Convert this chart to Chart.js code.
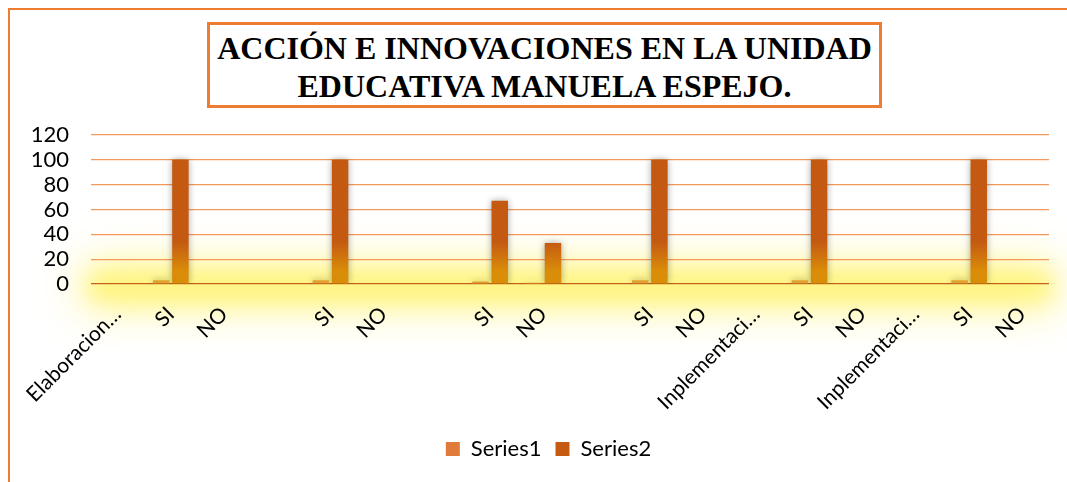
<!DOCTYPE html>
<html>
<head>
<meta charset="utf-8">
<script src="https://cdn.jsdelivr.net/npm/chart.js@4.4.1/dist/chart.umd.min.js"></script>
<style>
  html, body { margin:0; padding:0; background:#fff; overflow:hidden; }
  #wrap { position:relative; width:1067px; height:482px; }
  #frame { position:absolute; left:8px; top:8px; width:1080px; height:500px;
           border:2px solid #ED7D31; box-sizing:border-box; }
  #title { position:absolute; left:207px; top:22px; width:675px; height:86px;
           border:3px solid #ED7D31; box-sizing:border-box; background:#fff;
           font-family:"Liberation Serif", "Times New Roman", serif; font-weight:bold;
           font-size:32px; line-height:38px; text-align:center; color:#000;
           padding-top:4px; z-index:2; }
  canvas { position:absolute; left:0; top:0; }
</style>
</head>
<body>
<div id="wrap">
  <div id="frame"></div>
  <div id="title">ACCIÓN E INNOVACIONES EN LA UNIDAD<br>EDUCATIVA MANUELA ESPEJO.</div>
  <canvas id="chart" width="1067" height="482"></canvas>
</div>
<script>

/* datos del grafico */
let categorias = [
   "Elaboracion…","SI","NO","","SI","NO","","SI","NO",
   "","SI","NO","Inplementaci…","SI","NO","Inplementaci…","SI","NO"
];

let series1 = [0,3,0,0,3,0,0,2,1,0,3,0,0,3,0,0,3,0];
let series2 = [0,100,0,0,100,0,0,67,33,0,100,0,0,100,0,0,100,0];

let yTicks = [0,20,40,60,80,100,120];

let nombresSeries = ["Series1","Series2"];
let coloresLeyenda = ["#E07B3C","#C55A11"];

let fuente = "Lato, 'Open Sans', sans-serif";

function gradienteSerie2(context){

   let chart = context.chart;
   let area = chart.chartArea;

   if(!area) return "#C55A11";

   let y = chart.scales.y;

   let g = chart.ctx.createLinearGradient(
      0, y.getPixelForValue(34),
      0, y.getPixelForValue(10)
   );

   g.addColorStop(0,"#C45A12");
   g.addColorStop(1,"#DA8D08");

   return g;

}

/* brillo amarillo alrededor del eje */
let brilloEje = {

   id:"brilloEje",

   beforeDraw:function(chart){

      let ctx = chart.ctx;
      let area = chart.chartArea;
      let y0 = chart.scales.y.getPixelForValue(0);
      let desplaza = 2000;

      ctx.save();
      ctx.fillStyle = "#000";
      ctx.shadowOffsetY = desplaza;

      ctx.shadowColor = "rgba(255,240,90,0.85)";
      ctx.shadowBlur = 44;
      ctx.fillRect(area.left - 6, y0 - 16 - desplaza, area.right - area.left + 12, 36);

      ctx.shadowColor = "rgba(255,244,120,0.85)";
      ctx.shadowBlur = 20;
      ctx.fillRect(area.left, y0 - 11 - desplaza, area.right - area.left, 26);

      ctx.restore();

   }

};

/* sombra de las barras */
let sombraBarras = {

   id:"sombraBarras",

   beforeDatasetsDraw:function(chart){

      let ctx = chart.ctx;
      ctx.save();
      ctx.shadowColor = "rgba(0,0,0,0.35)";
      ctx.shadowBlur = 7;

   },

   afterDatasetsDraw:function(chart){

      chart.ctx.restore();

   }

};

/* la leyenda va un poco a la derecha */
let moverLeyenda = {

   id:"moverLeyenda",

   afterLayout:function(chart){

      if(!chart.legend) return;

      chart.legend.left += 19;
      chart.legend.right += 19;

   }

};

let ctx = document.getElementById("chart").getContext("2d");

new Chart(ctx, {

   type:"bar",

   data:{

      labels:categorias,

      datasets:[
         {
            label:nombresSeries[0],
            data:series1,
            backgroundColor:"#E2A02E",
            categoryPercentage:0.72,
            barPercentage:0.86
         },
         {
            label:nombresSeries[1],
            data:series2,
            backgroundColor:gradienteSerie2,
            categoryPercentage:0.72,
            barPercentage:0.86
         }
      ]

   },

   options:{

      responsive:false,
      animation:false,

      layout:{
         padding:{ left:10, right:18, top:135, bottom:12 }
      },

      plugins:{

         legend:{
            position:"bottom",
            labels:{
               font:{ family:fuente, size:22 },
               color:"#000",
               boxWidth:14,
               boxHeight:14,
               padding:14,
               generateLabels:function(chart){
                  let items = Chart.defaults.plugins.legend.labels.generateLabels(chart);
                  items.forEach(function(it,i){
                     it.fillStyle = coloresLeyenda[i];
                     it.strokeStyle = coloresLeyenda[i];
                     it.lineWidth = 0;
                  });
                  return items;
               }
            }
         },

         title:{ display:false },
         tooltip:{ enabled:false }

      },

      scales:{

         x:{
            grid:{ display:false },
            border:{ display:false },
            ticks:{
               autoSkip:false,
               minRotation:45,
               maxRotation:45,
               padding:10,
               color:"#000",
               font:{ family:fuente, size:21 }
            },
            afterFit:function(scale){
               scale.height = 140;
            }
         },

         y:{
            min:0,
            max:120,
            afterBuildTicks:function(scale){
               scale.ticks = yTicks.map(v=>({ value:v }));
            },
            grid:{
               drawTicks:false,
               color:function(c){
                  return c.tick.value === 0 ? "#C8601A" : "#F29A5C";
               },
               lineWidth:1.2
            },
            border:{ display:false },
            ticks:{
               autoSkip:false,
               padding:22,
               color:"#000",
               font:{ family:fuente, size:22 }
            },
            afterFit:function(scale){
               scale.width = 81;
            }
         }

      }

   },

   plugins:[brilloEje, sombraBarras, moverLeyenda]

});

</script>
</body>
</html>
